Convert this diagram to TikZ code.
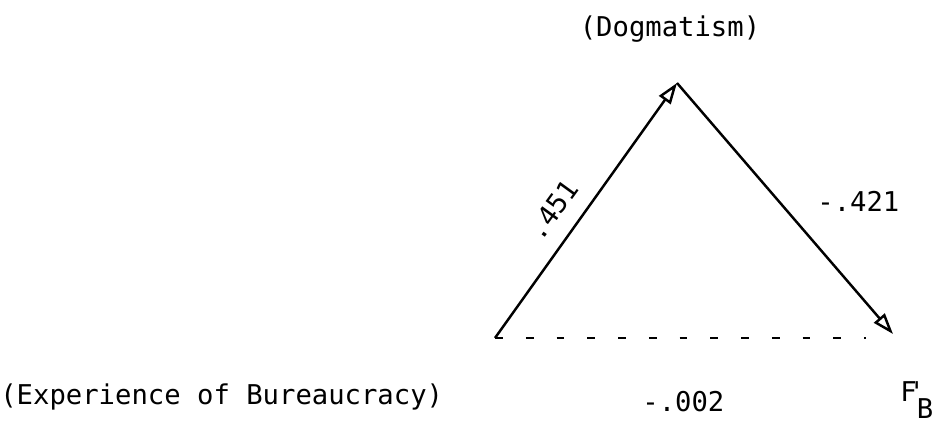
\documentclass[tikz,border=0pt]{standalone}
\usepackage{fontspec}
\setmonofont{DejaVu Sans Mono}
\usetikzlibrary{positioning,arrows.meta}

\begin{document}
\begin{tikzpicture}[every node/.style={font=\ttfamily\fontsize{15.5}{18}\selectfont,inner sep=0pt},
  link/.style={line width=1.4pt,-{Triangle[open,length=12pt,width=8pt]}},
  dashlink/.style={line width=1.4pt,dash pattern=on 4.5pt off 13pt}]
\useasboundingbox (0,0) rectangle (18.64,8.46);
% corners of the triangle
\coordinate (exp) at (9.9,1.70);
\coordinate (dog) at (13.54,6.80);
\coordinate (fb)  at (17.86,1.78);
\draw[link] (exp) -- (dog);
\draw[link] (dog) -- (fb);
\draw[dashlink,shorten >=0.55cm] (exp) -- (exp -| fb);
% variable names
\node[anchor=base] (doglab) at (13.4,7.72) {(Dogmatism)};
\node[anchor=base west] (explab) at (0,0.36) {(Experience of Bureaucracy)};
\node[anchor=base west] (fblab) at (18.0,0.42)
  {F\raisebox{-0.6em}{\rlap{\kern-0.3em\raisebox{0.6em}{'}}B}};
% path coefficients
\node[rotate=54] (c1) at (11.06,4.26) {.451};
\node[anchor=base west] (c2) at (16.34,4.22) {-.421};
\node[anchor=base west] (c3) at (12.84,0.22) {-.002};
\end{tikzpicture}
\end{document}
